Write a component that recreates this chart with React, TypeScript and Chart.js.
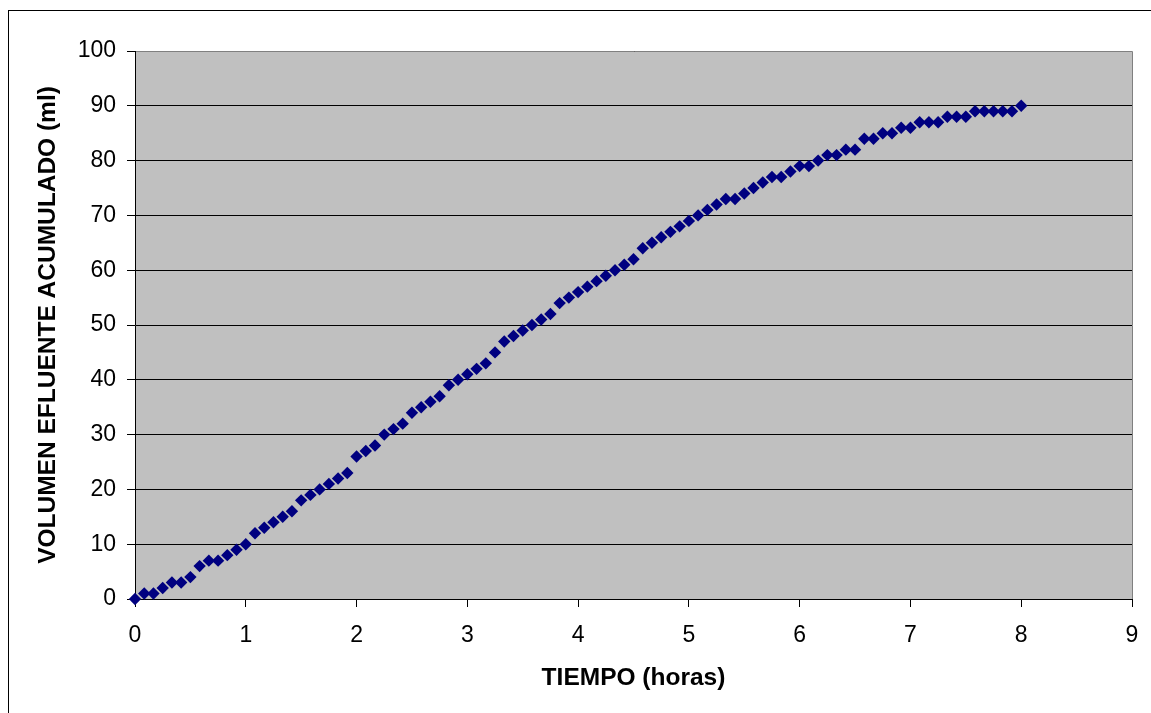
import React, { useEffect, useRef } from "react";
import { Chart, registerables } from "chart.js";

Chart.register(...registerables);

// Elapsed time of each reading, in minutes
const TIME_MIN = [
  0, 5, 10, 15, 20, 25, 30, 35, 40, 45, 50, 55,
  60, 65, 70, 75, 80, 85, 90, 95, 100, 105, 110, 115,
  120, 125, 130, 135, 140, 145, 150, 155, 160, 165, 170, 175,
  180, 185, 190, 195, 200, 205, 210, 215, 220, 225, 230, 235,
  240, 245, 250, 255, 260, 265, 270, 275, 280, 285, 290, 295,
  300, 305, 310, 315, 320, 325, 330, 335, 340, 345, 350, 355,
  360, 365, 370, 375, 380, 385, 390, 395, 400, 405, 410, 415,
  420, 425, 430, 435, 440, 445, 450, 455, 460, 465, 470, 475,
  480,
];

// Accumulated effluent volume (ml)
const VOLUME_ML = [
  0, 1, 1, 2, 3, 3, 4, 6, 7, 7, 8, 9,
  10, 12, 13, 14, 15, 16, 18, 19, 20, 21, 22, 23,
  26, 27, 28, 30, 31, 32, 34, 35, 36, 37, 39, 40,
  41, 42, 43, 45, 47, 48, 49, 50, 51, 52, 54, 55,
  56, 57, 58, 59, 60, 61, 62, 64, 65, 66, 67, 68,
  69, 70, 71, 72, 73, 73, 74, 75, 76, 77, 77, 78,
  79, 79, 80, 81, 81, 82, 82, 84, 84, 85, 85, 86,
  86, 87, 87, 87, 88, 88, 88, 89, 89, 89, 89, 89,
  90,
];

const X_MIN = 0;
const X_MAX = 9;
const X_STEP = 1;
const Y_MIN = 0;
const Y_MAX = 100;
const Y_STEP = 10;

const X_TITLE = "TIEMPO (horas)";
const Y_TITLE = "VOLUMEN EFLUENTE ACUMULADO (ml)";

const FONT_FAMILY = "'Liberation Sans', Arial, Helvetica, sans-serif";

const framePlugin = {
  id: "excelFrame",
  beforeDraw(chart: any) {
    const { ctx, chartArea, width, height } = chart;
    ctx.save();
    ctx.fillStyle = "#ffffff";
    ctx.fillRect(0, 0, width, height);
    ctx.fillStyle = "#C0C0C0";
    ctx.fillRect(
      chartArea.left,
      chartArea.top,
      chartArea.right - chartArea.left,
      chartArea.bottom - chartArea.top
    );
    ctx.strokeStyle = "#000000";
    ctx.lineWidth = 1;
    ctx.strokeRect(8.5, 10.5, width + 100, height + 100);
    ctx.restore();
  },
  beforeDatasetsDraw(chart: any) {
    const { ctx, chartArea } = chart;
    ctx.save();
    ctx.strokeStyle = "#808080";
    ctx.lineWidth = 1;
    ctx.beginPath();
    ctx.moveTo(chartArea.left + 1, chartArea.top + 0.5);
    ctx.lineTo(chartArea.right + 0.5, chartArea.top + 0.5);
    ctx.lineTo(chartArea.right + 0.5, chartArea.bottom);
    ctx.stroke();
    ctx.restore();
  },
};

export default function App() {
  const canvasRef = useRef<HTMLCanvasElement | null>(null);

  useEffect(() => {
    const canvas = canvasRef.current;
    if (!canvas) return;
    const points = TIME_MIN.map((m, i) => ({ x: m / 60, y: VOLUME_ML[i] }));

    const chart = new Chart(canvas, {
      type: "scatter",
      data: {
        datasets: [
          {
            label: "Volumen",
            data: points,
            pointStyle: "rectRot",
            pointRadius: 6.2,
            pointHoverRadius: 6.2,
            backgroundColor: "#000080",
            borderColor: "#000080",
            borderWidth: 0,
            showLine: false,
            clip: false as any,
          },
        ],
      },
      options: {
        responsive: false,
        animation: false,
        events: [],
        layout: { padding: { left: 0, top: 51, right: 19, bottom: 0 } },
        plugins: {
          legend: { display: false },
          tooltip: { enabled: false },
          title: { display: false },
        },
        scales: {
          x: {
            type: "linear",
            min: X_MIN,
            max: X_MAX,
            ticks: {
              stepSize: X_STEP,
              color: "#000",
              padding: 15,
              maxRotation: 0,
              font: { family: FONT_FAMILY, size: 23 },
            },
            grid: {
              display: true,
              drawOnChartArea: false,
              drawTicks: true,
              tickLength: 8,
              color: "#000",
            },
            border: { display: true, color: "#000" },
            title: {
              display: true,
              text: X_TITLE,
              color: "#000",
              font: { family: FONT_FAMILY, size: 24.5, weight: "bold" },
              padding: { top: 0, bottom: 20 },
            },
            afterFit(scale: any) {
              scale.height = 713 - 599;
              scale.paddingLeft = 0;
              scale.paddingRight = 0;
            },
          },
          y: {
            type: "linear",
            min: Y_MIN,
            max: Y_MAX,
            ticks: {
              stepSize: Y_STEP,
              color: "#000",
              padding: 11,
              font: { family: FONT_FAMILY, size: 23 },
            },
            grid: {
              display: true,
              drawOnChartArea: true,
              drawTicks: true,
              tickLength: 8,
              color: "#000",
            },
            border: { display: true, color: "#000" },
            title: {
              display: true,
              text: Y_TITLE,
              color: "#000",
              font: { family: FONT_FAMILY, size: 24.5, weight: "bold" },
              padding: { top: 34, bottom: 0 },
            },
            afterFit(scale: any) {
              scale.width = 135;
            },
          },
        },
      },
      plugins: [framePlugin],
    });

    return () => chart.destroy();
  }, []);

  return (
    <div
      style={{
        position: "fixed",
        left: 0,
        top: 0,
        width: 1151,
        height: 713,
        background: "#fff",
      }}
    >
      <canvas ref={canvasRef} width={1151} height={713} style={{ display: "block" }} />
    </div>
  );
}
